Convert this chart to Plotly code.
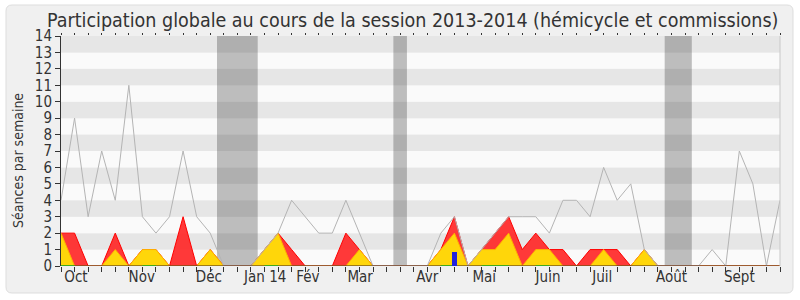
import plotly.graph_objects as go

# ---- data ----
weeks = list(range(54))
seances = [4, 9, 3, 7, 4, 11, 3, 2, 3, 7, 3, 2,
           0, 0, 0, 1, 2, 4, 3, 2, 2, 4, 2, 0,
           0, 0, 0, 0, 2, 3, 0, 1, 2, 3, 3, 3,
           2, 4, 4, 3, 6, 4, 5, 1, 0, 0, 0, 0,
           1, 0, 7, 5, 0, 4]
presences = [2, 2, 0, 0, 2, 0, 1, 1, 0, 3, 0, 1,
             0, 0, 0, 1, 2, 1, 0, 0, 0, 2, 1, 0,
             0, 0, 0, 0, 1, 3, 0, 1, 2, 3, 1, 2,
             1, 1, 0, 1, 1, 1, 0, 1, 0, 0, 0, 0,
             0, 0, 0, 0, 0, 0]
participations = [2, 0, 0, 0, 1, 0, 1, 1, 0, 0, 0, 1,
                  0, 0, 0, 1, 2, 0, 0, 0, 0, 0, 1, 0,
                  0, 0, 0, 0, 1, 2, 0, 1, 1, 2, 0, 1,
                  1, 0, 0, 0, 1, 0, 0, 1, 0, 0, 0, 0,
                  0, 0, 0, 0, 0, 0]
N = None
interventions = [0, 0, N, N, 0, N, 0, 0, N, N, N, 0,
                 N, N, N, 0, 0, N, N, N, N, N, 0, N,
                 N, N, N, N, 0, 0, N, 0, 0, 0, N, 0,
                 0, N, N, N, 0, N, N, 0, N, N, N, N,
                 N, N, N, N, N, N]
baseline = [0] * len(weeks)
question_weeks = [29]
question_counts = [0.85]
holiday_start = [11.5, 24.5, 44.5]
holiday_end = [14.5, 25.5, 46.5]
month_pos = [1.1, 5.95, 10.9, 15.05, 18.2, 22.05, 27.0, 31.2, 35.9, 39.9, 45.0, 50.0]
month_labels = ["Oct", "Nov", "Déc", "Jan 14", "Fév", "Mar", "Avr", "Mai",
                "Juin", "Juil", "Août", "Sept"]
y_ticks = list(range(0, 15))

FONT = "DejaVu Sans Condensed, DejaVu Sans, sans-serif"

fig = go.Figure()
fig.add_trace(go.Scatter(x=weeks, y=presences, mode="lines", fill="tozeroy",
                         line=dict(color="#ff0000", width=1),
                         fillcolor="rgba(255,40,40,0.92)", hoverinfo="skip"))
fig.add_trace(go.Scatter(x=weeks, y=participations, mode="lines", fill="tozeroy",
                         line=dict(color="#ffb000", width=1),
                         fillcolor="#ffd60a", hoverinfo="skip"))
fig.add_trace(go.Scatter(x=weeks, y=seances, mode="lines",
                         line=dict(color="#b4b4b4", width=1), hoverinfo="skip"))
fig.add_trace(go.Scatter(x=weeks, y=baseline, mode="lines",
                         line=dict(color="#402020", width=1.2), hoverinfo="skip"))
fig.add_trace(go.Scatter(x=weeks, y=interventions, mode="lines",
                         line=dict(color="#22bb22", width=1.5), hoverinfo="skip"))
fig.add_trace(go.Bar(x=question_weeks, y=question_counts, width=0.36,
                     marker=dict(color="#2222dd", line=dict(width=0)),
                     xaxis="x2", hoverinfo="skip"))

shapes = []
# outer rounded frame (paper coords)
x0, x1, y0, y1 = -55 / 719, 732 / 719, -27 / 230, 261 / 230
rx, ry = 6 / 719, 6 / 230
path = (f"M {x0+rx},{y1} L {x1-rx},{y1} Q {x1},{y1} {x1},{y1-ry} "
        f"L {x1},{y0+ry} Q {x1},{y0} {x1-rx},{y0} L {x0+rx},{y0} "
        f"Q {x0},{y0} {x0},{y0+ry} L {x0},{y1-ry} Q {x0},{y1} {x0+rx},{y1} Z")
shapes.append(dict(type="path", path=path, xref="paper", yref="paper",
                   fillcolor="#f0f0f0", line=dict(color="#dddddd", width=1),
                   layer="below"))
# stripes
for k in y_ticks[:-1]:
    shapes.append(dict(type="rect", xref="x domain", yref="y", x0=0, x1=1,
                       y0=k, y1=k + 1,
                       fillcolor="#e6e6e6" if k % 2 else "#fafafa",
                       line=dict(width=0), layer="below"))
# holidays
for a, b in zip(holiday_start, holiday_end):
    shapes.append(dict(type="rect", xref="x", yref="y domain", x0=a, x1=b,
                       y0=0, y1=1, fillcolor="rgba(50,50,50,0.3)",
                       line=dict(width=0), layer="below"))
# right border
shapes.append(dict(type="line", xref="x domain", yref="y domain", x0=1, x1=1,
                   y0=0, y1=1, line=dict(color="#c8c8c8", width=1)))

fig.update_layout(
    width=800, height=300,
    margin=dict(l=61, r=20, t=36, b=34, pad=0),
    paper_bgcolor="white", plot_bgcolor="#fafafa",
    showlegend=False, bargap=0,
    font=dict(family=FONT, color="#333333", size=15),
    title=dict(text="Participation globale au cours de la session 2013-2014 (hémicycle et commissions)",
               x=47 / 800, xanchor="left", xref="container",
               y=1 - 20 / 300, yanchor="middle", yref="container",
               font=dict(family=FONT, size=19.5, color="#333333")),
    shapes=shapes,
    annotations=[dict(text="Séances par semaine", textangle=-90,
                      xref="paper", yref="paper",
                      x=(18 - 61) / 719, y=(266 - 161) / 230,
                      xanchor="center", yanchor="middle", showarrow=False,
                      font=dict(family=FONT, size=14, color="#333333"))],
    xaxis=dict(range=[0, 53], tickmode="array", tickvals=month_pos,
               ticktext=month_labels, ticks="", showgrid=False, zeroline=False,
               showline=False, tickfont=dict(size=15, color="#333333"),
               minor=dict(tickmode="array", tickvals=weeks, ticks="outside",
                          ticklen=5, tickcolor="#333333", tickwidth=1,
                          showgrid=False)),
    xaxis2=dict(range=[0, 53], overlaying="x", side="top", anchor="y",
                tickmode="array", tickvals=weeks, ticks="outside", ticklen=2,
                tickcolor="#333333", showticklabels=False, showgrid=False,
                zeroline=False, showline=False),
    yaxis=dict(range=[0, 14], tickmode="array", tickvals=y_ticks,
               ticks="outside", ticklen=5, tickcolor="#333333",
               showgrid=False, zeroline=False, showline=True,
               linecolor="#333333", linewidth=1,
               tickfont=dict(size=15, color="#333333")),
)

fig.write_html("out.html")
